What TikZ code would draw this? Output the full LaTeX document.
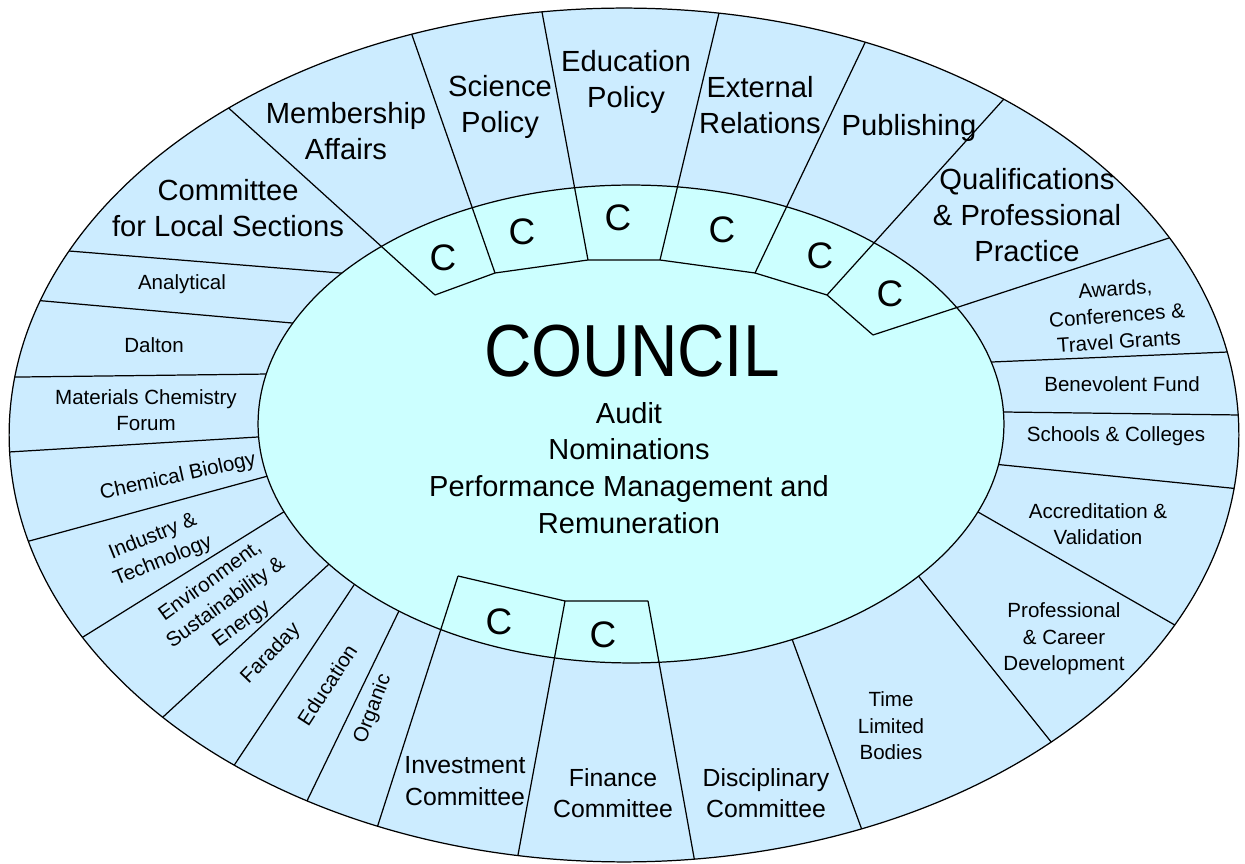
\documentclass[tikz,border=0pt]{standalone}
\usepackage{fontspec}
\setmainfont{Liberation Sans}
\newfontfamily\councilfont[FakeStretch=0.89]{Liberation Sans}
\definecolor{ringColour}{RGB}{204, 236, 255}
\definecolor{councilColour}{RGB}{204, 255, 255}
\usetikzlibrary{
    scopes
}
\tikzset{
    wheelDiagram/.style={
        spoke/.style={
            draw = black,
            line width = 0.7pt,
            shorten > = -8pt,
            shorten < = -8pt,
        },
        cspoke/.style={
            draw = black,
            line width = 0.7pt,
            shorten > = -8pt,
        },
        rim/.style={
            draw = black,
            line width = 0.7pt,
        },
        bigLabel/.style={
            font = \fontsize{16.6}{20.5}\selectfont,
            align = center,
            inner sep = 0pt,
        },
        midLabel/.style={
            font = \fontsize{14.1}{18}\selectfont,
            align = center,
            inner sep = 0pt,
        },
        smallLabel/.style={
            font = \fontsize{11.7}{15}\selectfont,
            align = center,
            inner sep = 0pt,
        },
        cLabel/.style={
            font = \fontsize{21}{25}\selectfont,
            inner sep = 0pt,
        },
    }
}

\begin{document}
\begin{tikzpicture}[
        wheelDiagram,
        x=0.02cm, y=-0.02cm,
        councilTitle/.style={font=\councilfont\fontsize{42}{50}\selectfont, inner sep=0pt},
        councilText/.style={font=\fontsize{16.5}{21}\selectfont, align=center, inner sep=0pt},
    ]
    \useasboundingbox (0,0) rectangle (1245,864);

    % outer ring
    \fill[ringColour] (624,435) ellipse [x radius=12.3cm, y radius=8.54cm];

    \begin{scope}
        \clip (624,435) ellipse [x radius=12.3cm, y radius=8.54cm];
        \draw[spoke] (340,273) -- (69,251);
        \draw[spoke] (292,323) -- (44,301);
        \draw[spoke] (270,374) -- (21,377);
        \draw[spoke] (258,437) -- (9,452);
        \draw[spoke] (268,476) -- (33,540);
        \draw[spoke] (282,513) -- (83,637);
        \draw[spoke] (328,565) -- (163,717);
        \draw[spoke] (352,588) -- (233,767);
        \draw[spoke] (398,613) -- (306,803);
        \draw[spoke] (792,639) -- (862,830);
        \draw[spoke] (920,578) -- (1052,743);
        \draw[spoke] (978,512) -- (1180,628);
        \draw[spoke] (1003,465) -- (1240,489);
        \draw[spoke] (1003,412) -- (1240,415);
        \draw[spoke] (992,362) -- (1228,352);
    \end{scope}

    % council
    \filldraw[rim, fill=councilColour] (631,424) ellipse [x radius=7.46cm, y radius=4.78cm];

    % C boxes
    \coordinate (cb_a) at (435,295);
    \coordinate (cb_b) at (495,273);
    \coordinate (cb_c) at (588,260);
    \coordinate (cb_d) at (660,260);
    \coordinate (cb_e) at (755,273);
    \coordinate (cb_f) at (827,295);
    \coordinate (cb_g) at (873,335);
    \coordinate (cb_h) at (458,576);
    \coordinate (cb_i) at (565,601);
    \coordinate (cb_j) at (648,601);

    \begin{scope}
        \clip (624,435) ellipse [x radius=12.3cm, y radius=8.54cm];
        \draw[cspoke] (cb_a) -- (233,112);
        \draw[cspoke] (cb_b) -- (412,35);
        \draw[cspoke] (cb_c) -- (542,12);
        \draw[cspoke] (cb_d) -- (719,13);
        \draw[cspoke] (cb_e) -- (862,49);
        \draw[cspoke] (cb_f) -- (1003,100);
        \draw[cspoke] (cb_g) -- (1169,238);
        \draw[cspoke] (cb_h) -- (377,828);
        \draw[cspoke] (cb_i) -- (518,855);
        \draw[cspoke] (cb_j) -- (695,863);
    \end{scope}
    \draw[rim] (cb_a) -- (cb_b) -- (cb_c) -- (cb_d) -- (cb_e) -- (cb_f) -- (cb_g);
    \draw[rim] (cb_h) -- (cb_i) -- (cb_j);

    \draw[rim] (624,435) ellipse [x radius=12.3cm, y radius=8.54cm];

    \node[cLabel] (c_one) at (443,258) {C};
    \node[cLabel] (c_two) at (522,232) {C};
    \node[cLabel] (c_three) at (618,218) {C};
    \node[cLabel] (c_four) at (722,230) {C};
    \node[cLabel] (c_five) at (820,256) {C};
    \node[cLabel] (c_six) at (890,294) {C};
    \node[cLabel] (c_invest) at (499,622) {C};
    \node[cLabel] (c_finance) at (603,635) {C};

    \node[councilTitle] (council) at (632,351) {COUNCIL};
    \node[councilText] (council_sub) at (629,468) {Audit\\Nominations\\Performance Management and\\Remuneration};

    % top labels
    \node[bigLabel] (lbl_locsec) at (228,208) {Committee\\for Local Sections};
    \node[bigLabel] (lbl_member) at (346,131) {Membership\\Affairs};
    \node[bigLabel] (lbl_scipol) at (500,107) {Science\\Policy};
    \node[bigLabel] (lbl_edupol) at (626,82) {Education\\Policy};
    \node[bigLabel] (lbl_extrel) at (760,105) {External\\Relations};
    \node[bigLabel] (lbl_publish) at (909,128) {Publishing};
    \node[bigLabel] (lbl_qualif) at (1027,215) {Qualifications\\\& Professional\\Practice};

    % right labels
    \node[smallLabel, rotate=4] (lbl_awards) at (1117,315) {Awards,\\Conferences \&\\Travel Grants};
    \node[smallLabel] (lbl_benev) at (1122,384) {Benevolent Fund};
    \node[smallLabel] (lbl_school) at (1116,436) {Schools \& Colleges};
    \node[smallLabel] (lbl_accred) at (1098,524) {Accreditation \&\\Validation};
    \node[smallLabel] (lbl_profdev) at (1064,639) {Professional\\\& Career\\Development};
    \node[smallLabel] (lbl_timelim) at (891,726) {Time\\Limited\\Bodies};

    % bottom labels
    \node[midLabel] (lbl_discip) at (766,793) {Disciplinary\\Committee};
    \node[midLabel] (lbl_finance) at (613,793) {Finance\\Committee};
    \node[midLabel] (lbl_invest) at (465,781) {Investment\\Committee};
    \node[smallLabel, rotate=69] (lbl_organic) at (373,709) {Organic};
    \node[smallLabel, rotate=57] (lbl_educ) at (327,685) {Education};
    \node[smallLabel, rotate=46] (lbl_faraday) at (271,654) {Faraday};
    \node[smallLabel, rotate=36] (lbl_environ) at (226,603) {Environment,\\Sustainability \&\\Energy};

    % left labels
    \node[smallLabel, rotate=22] (lbl_industry) at (158,549) {Industry \&\\Technology};
    \node[smallLabel, rotate=12.5] (lbl_chembio) at (178,477) {Chemical Biology};
    \node[smallLabel] (lbl_material) at (146,410) {Materials Chemistry\\Forum};
    \node[smallLabel] (lbl_dalton) at (154,345) {Dalton};
    \node[smallLabel] (lbl_analyt) at (182,284) {Analytical};
\end{tikzpicture}
\end{document}
